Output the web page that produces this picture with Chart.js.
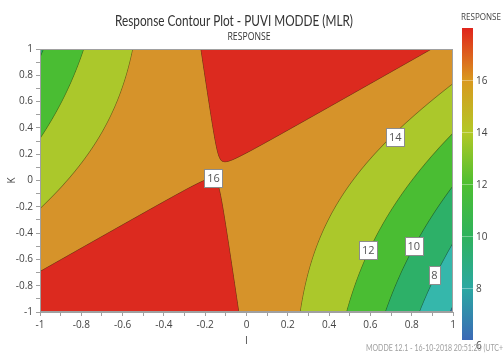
<!DOCTYPE html>
<html>
<head>
<meta charset="utf-8">
<script src="https://cdn.jsdelivr.net/npm/chart.js@4.4.1/dist/chart.umd.min.js"></script>
<style>
  html, body { margin: 0; padding: 0; background: #fff; }
  #wrap { position: relative; width: 503px; height: 354px; }
</style>
</head>
<body>
<div id="wrap"><canvas id="contour"></canvas></div>
<script>
// fitted MLR model for RESPONSE over the factors I and K
const terms = ['const', 'I', 'K', 'I*K', 'I*I', 'K*K'];
const coefs = [15.872, -1.485, 0.52, 4.315, -4.19, 0.44];

// contour levels and the fill used below / between / above them
const levels = [6, 8, 10, 12, 14, 16];
const bandColors = ['#3e6fb5', '#35b7ab', '#2db068', '#4abd33', '#abc82b', '#d6932a', '#dc2a1f'];

// values written on the contour lines
const labelValues = [16, 14, 12, 10, 8];
const labelI = [-0.16, 0.72, 0.59, 0.81, 0.91];
const labelK = [0.02, 0.33, -0.53, -0.50, -0.72];

// colour bar
const barTicks = [6, 8, 10, 12, 14, 16];
const barStopValues = [6, 8, 10, 12, 14, 16, 18];
const barStopColors = ['#3b69b6', '#2ba8a2', '#2fb25c', '#4dbf31', '#b3c826', '#d9981f', '#e0241c'];

const FONT = '"Open Sans", "Noto Sans", sans-serif';

function response(i, k) {
  const x = { 'const': 1, 'I': i, 'K': k, 'I*K': i * k, 'I*I': i * i, 'K*K': k * k };
  let s = 0;
  terms.forEach((t, n) => { s += coefs[n] * x[t]; });
  return s;
}

function hexToRgb(h) {
  const n = parseInt(h.slice(1), 16);
  return [(n >> 16) & 255, (n >> 8) & 255, n & 255];
}

const contourFill = {
  id: 'contourFill',
  beforeDatasetsDraw(chart) {
    const { ctx, chartArea: a, scales: { x, y } } = chart;
    const w = Math.round(a.right - a.left), h = Math.round(a.bottom - a.top);
    const img = ctx.createImageData(w, h);
    const rgb = bandColors.map(hexToRgb);
    for (let py = 0; py < h; py++) {
      const k = y.getValueForPixel(a.top + py + 0.5);
      const k1 = y.getValueForPixel(a.top + py + 1.5);
      for (let px = 0; px < w; px++) {
        const i = x.getValueForPixel(a.left + px + 0.5);
        const i1 = x.getValueForPixel(a.left + px + 1.5);
        const f = response(i, k);
        const g = Math.hypot(response(i1, k) - f, response(i, k1) - f) || 1e-6;
        let L = 0, best = Infinity;
        for (let n = 0; n < levels.length; n++) {
          const d = Math.abs(f - levels[n]);
          if (d < best) { best = d; L = n; }
        }
        // signed distance to the nearest contour, in pixels
        const s = (f - levels[L]) / g;
        const t = Math.min(1, Math.max(0, 0.5 + s));
        const lo = rgb[L], hi = rgb[L + 1];
        const line = Math.max(0, 1 - Math.abs(s) / 0.8) * 0.35;
        const o = (py * w + px) * 4;
        for (let c = 0; c < 3; c++) {
          img.data[o + c] = (lo[c] + (hi[c] - lo[c]) * t) * (1 - line);
        }
        img.data[o + 3] = 255;
      }
    }
    ctx.putImageData(img, Math.round(a.left), Math.round(a.top));
  },
  afterDatasetsDraw(chart) {
    const { ctx, chartArea: a, scales: { x, y } } = chart;
    ctx.save();
    ctx.strokeStyle = '#a0a0a0';
    ctx.lineWidth = 1;
    ctx.strokeRect(a.left + 0.5, a.top + 0.5, a.right - a.left - 1, a.bottom - a.top - 1);

    // contour labels
    ctx.font = '11px ' + FONT;
    ctx.textAlign = 'center';
    ctx.textBaseline = 'middle';
    labelValues.forEach((v, n) => {
      const cx = x.getPixelForValue(labelI[n]);
      const cy = y.getPixelForValue(labelK[n]);
      const bw = Math.round(ctx.measureText(String(v)).width) + 5;
      const bh = 18;
      const bx = Math.round(cx - bw / 2) + 0.5, by = Math.round(cy - bh / 2) + 0.5;
      ctx.fillStyle = '#ffffff';
      ctx.fillRect(bx, by, bw, bh);
      ctx.strokeStyle = '#8c8c8c';
      ctx.strokeRect(bx, by, bw, bh);
      ctx.fillStyle = '#555';
      ctx.fillText(String(v), cx, cy + 1);
    });
    ctx.restore();
  },
  afterDraw(chart) {
    const { ctx } = chart;
    ctx.save();
    ctx.textBaseline = 'middle';

    ctx.fillStyle = '#333';
    ctx.textAlign = 'center';
    ctx.font = '15px Lato, ' + FONT;
    ctx.fillText('Response Contour Plot - PUVI MODDE (MLR)', 234, 21, 238);
    ctx.font = '10px ' + FONT;
    ctx.fillText('RESPONSE', 249, 37, 43);

    // colour bar
    const bx = 462, bw = 11, top = 28, bottom = 340;
    const vy = v => bottom - (v - 6) / 12 * (bottom - top);
    const grad = ctx.createLinearGradient(0, bottom, 0, top);
    barStopValues.forEach((v, n) => grad.addColorStop((v - 6) / 12, barStopColors[n]));
    ctx.fillStyle = grad;
    ctx.fillRect(bx, top, bw, bottom - top);
    ctx.strokeStyle = 'rgba(255,255,255,0.35)';
    ctx.lineWidth = 1;
    ctx.font = '10px ' + FONT;
    ctx.textAlign = 'left';
    ctx.fillStyle = '#444';
    barTicks.forEach(v => {
      const ty = Math.round(vy(v)) + 0.5;
      if (v > 6) {
        ctx.beginPath();
        ctx.moveTo(bx, ty);
        ctx.lineTo(bx + bw + 3, ty);
        ctx.stroke();
      }
      ctx.fillText(String(v), bx + bw + 3, v === 6 ? ty + 6 : ty + 1);
    });
    ctx.font = '9px ' + FONT;
    ctx.fillStyle = '#444';
    ctx.fillText('RESPONSE', 461, 17, 40);

    ctx.font = '9px Lato, ' + FONT;
    ctx.fillStyle = '#a0a0a0';
    ctx.fillText('MODDE 12.1 - 16-10-2018 20:51:20 (UTC+', 366, 348, 137);
    ctx.restore();
  }
};

const tickLabel = value => {
  const v = Math.round(value * 10);
  return v % 2 === 0 ? String(v / 10) : '';
};

const axis = (title, fitKey, fitSize, titlePad) => ({
  type: 'linear',
  min: -1,
  max: 1,
  ticks: {
    stepSize: 0.1,
    autoSkip: false,
    maxRotation: 0,
    color: '#444',
    font: { family: FONT, size: 10 },
    callback: tickLabel
  },
  grid: { drawOnChartArea: false, drawTicks: true, tickLength: 4, color: '#a0a0a0' },
  border: { color: '#a0a0a0' },
  title: { display: true, text: title, color: '#444', font: { family: FONT, size: 10 }, padding: titlePad },
  afterFit: s => { s[fitKey] = fitSize; }
});

new Chart(document.getElementById('contour'), {
  type: 'scatter',
  data: {
    datasets: [{
      label: 'RESPONSE',
      data: labelI.map((v, n) => ({ x: v, y: labelK[n] })),
      pointRadius: 0,
      pointHoverRadius: 0
    }]
  },
  options: {
    responsive: true,
    maintainAspectRatio: false,
    animation: false,
    devicePixelRatio: 1,
    layout: { padding: { top: 49, right: 50, left: 0, bottom: 0 } },
    plugins: { legend: { display: false }, tooltip: { enabled: false } },
    scales: {
      x: axis('I', 'height', 42, { top: 0, bottom: 7 }),
      y: axis('K', 'width', 40, { top: 6, bottom: 0 })
    }
  },
  plugins: [contourFill]
});
</script>
</body>
</html>
